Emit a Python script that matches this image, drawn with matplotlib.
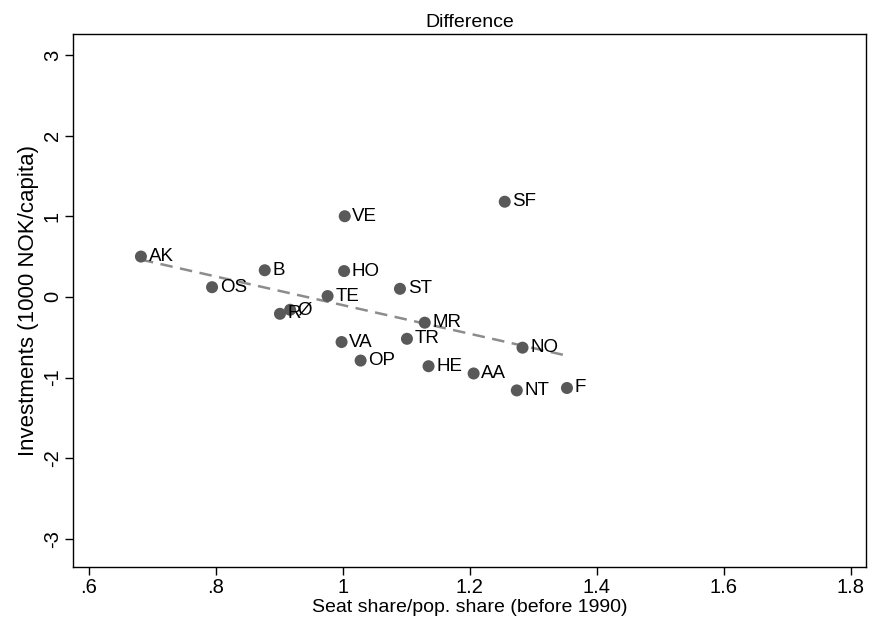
import matplotlib.pyplot as plt
import numpy as np

plt.rcParams['font.family'] = ['Liberation Sans', 'DejaVu Sans']

# data: seat share / pop share vs. investment difference
labels = ['AK', 'OS', 'B', 'VE', 'HO', 'TE', 'ST', 'SF', 'R', 'Ø',
          'MR', 'VA', 'TR', 'OP', 'HE', 'AA', 'NO', 'NT', 'F']
seat_share = [0.682, 0.794, 0.877, 1.003, 1.002, 0.976, 1.090, 1.255, 0.901, 0.917,
              1.129, 0.998, 1.101, 1.028, 1.135, 1.206, 1.283, 1.274, 1.353]
invest = [0.50, 0.12, 0.33, 1.00, 0.32, 0.01, 0.10, 1.18, -0.21, -0.16,
          -0.32, -0.56, -0.52, -0.79, -0.86, -0.95, -0.63, -1.16, -1.13]

x = np.array(seat_share)
y = np.array(invest)

fig = plt.figure(figsize=(8.71, 6.19), dpi=100)
ax = fig.add_axes([73/871, 52/619, 793/871, 533/619])

# linear fit
b, a = np.polyfit(x, y, 1)
xf = np.linspace(x.min(), x.max(), 50)
ax.plot(xf, a + b * xf, color='#8c8c8c', lw=1.8, ls=(0, (5, 3)), zorder=2)

ax.scatter(x, y, s=75, color='#595959', edgecolors='none', zorder=3)
for xi, yi, lab in zip(x, y, labels):
    ax.annotate(lab, (xi, yi), xytext=(5.5, 0), textcoords='offset points',
                ha='left', va='center', fontsize=13.5, zorder=4)

ax.set_xlim(0.575, 1.824)
ax.set_ylim(-3.35, 3.26)
ax.set_xticks([0.6, 0.8, 1.0, 1.2, 1.4, 1.6, 1.8])
ax.set_xticklabels(['.6', '.8', '1', '1.2', '1.4', '1.6', '1.8'])
ax.set_yticks([-3, -2, -1, 0, 1, 2, 3])
ax.set_yticklabels(['-3', '-2', '-1', '0', '1', '2', '3'], rotation=90, va='center')
ax.tick_params(direction='out', length=6, width=1, labelsize=14.5, pad=2)

ax.set_xlabel('Seat share/pop. share (before 1990)', fontsize=14, labelpad=1)
ax.set_ylabel('Investments (1000 NOK/capita)', fontsize=16, labelpad=3)
ax.set_title('Difference', fontsize=14, pad=5)

for s in ax.spines.values():
    s.set_linewidth(1)

fig.savefig('out.png', dpi=100)
